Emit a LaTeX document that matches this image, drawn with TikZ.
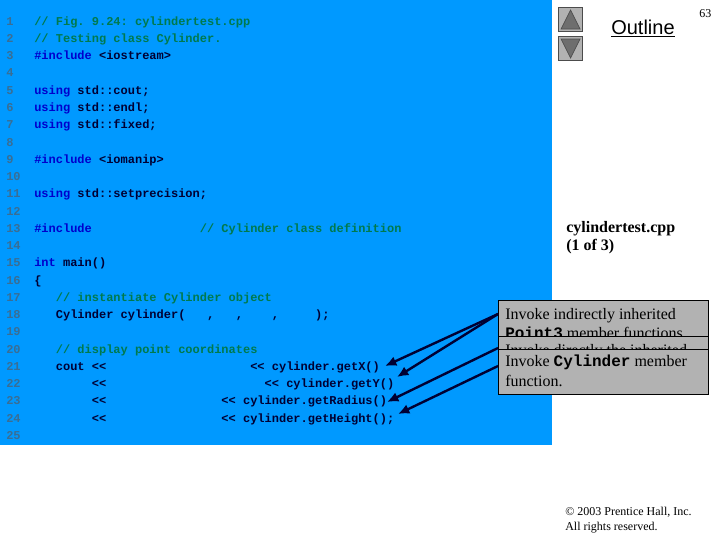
\documentclass[tikz,border=0pt]{standalone}
\usepackage{fontspec}
\setmainfont{Liberation Serif}
\setmonofont{Liberation Mono}
\setsansfont{Liberation Sans}
\usetikzlibrary{arrows.meta}
\definecolor{panelblue}{HTML}{0099FF}
\definecolor{lnum}{HTML}{3A6E94}
\definecolor{kw}{HTML}{0000CC}
\definecolor{cmt}{HTML}{007A4D}
\definecolor{idn}{HTML}{000033}
\definecolor{boxgray}{HTML}{B2B2B2}
\definecolor{trigray}{HTML}{6E6E6E}
\newcommand{\csp}[1]{\hspace*{#1\dimexpr 5.4pt\relax}}
\newcommand{\K}[1]{\textcolor{kw}{#1}}
\newcommand{\C}[1]{\textcolor{cmt}{#1}}
\tikzset{
  x=0.75pt,y=-0.75pt,
  lnumber/.style={anchor=base west,inner sep=0pt,text=lnum,font=\ttfamily\bfseries\fontsize{9}{9}\selectfont},
  code/.style={anchor=base west,inner sep=0pt,text=idn,font=\ttfamily\bfseries\fontsize{9}{9}\selectfont},
  callout/.style={draw=black,line width=0.75pt,fill=boxgray,minimum width=157.5pt,anchor=north west,inner sep=0pt},
  calltext/.style={anchor=base west,inner sep=0pt,text=black,font=\fontsize{12}{12}\selectfont},
  pointer/.style={draw=idn,line width=1.8pt,-{Latex[length=8.5pt,width=7.5pt]}},
  btn/.style={draw=black!70,line width=0.75pt,fill=boxgray,minimum width=18.5pt,minimum height=18.5pt,inner sep=0pt},
  tri/.style={draw=black!70,fill=trigray,line width=0.5pt},
  serif/.style={anchor=base west,inner sep=0pt,text=black,font=\bfseries\fontsize{12}{12}\selectfont},
  small/.style={anchor=base west,inner sep=0pt,text=black,font=\fontsize{9}{9}\selectfont},
}
\begin{document}
\begin{tikzpicture}
\useasboundingbox (0,0) rectangle (720,540);
\fill[white] (0,0) rectangle (720,540);
\fill[panelblue] (0,0) rectangle (552,445);
% line numbers
\foreach \n in {1,...,25}{
  \node[lnumber] (n\n) at (6,{25.2+(\n-1)*17.26}) {\n};
}
\newcommand{\bl}[1]{25.2+(#1-1)*17.26}
\node[code] (l1) at (34,{\bl{1}}) {\C{// Fig. 9.24: cylindertest.cpp}};
\node[code] (l2) at (34,{\bl{2}}) {\C{// Testing class Cylinder.}};
\node[code] (l3) at (34,{\bl{3}}) {\K{\#include} <iostream>};
\node[code] (l5) at (34,{\bl{5}}) {\K{using} std::cout;};
\node[code] (l6) at (34,{\bl{6}}) {\K{using} std::endl;};
\node[code] (l7) at (34,{\bl{7}}) {\K{using} std::fixed;};
\node[code] (l9) at (34,{\bl{9}}) {\K{\#include} <iomanip>};
\node[code] (l11) at (34,{\bl{11}}) {\K{using} std::setprecision;};
\node[code] (l13) at (34,{\bl{13}}) {\K{\#include}\csp{15}\C{// Cylinder class definition}};
\node[code] (l15) at (34,{\bl{15}}) {\K{int} main()};
\node[code] (l16) at (34,{\bl{16}}) {\{};
\node[code] (l17) at (34,{\bl{17}}) {\csp{3}\C{// instantiate Cylinder object}};
\node[code] (l18) at (34,{\bl{18}}) {\csp{3}Cylinder cylinder(\csp{3},\csp{3},\csp{4},\csp{5});};
\node[code] (l20) at (34,{\bl{20}}) {\csp{3}\C{// display point coordinates}};
\node[code] (l21) at (34,{\bl{21}}) {\csp{3}cout <<\csp{20}<< cylinder.getX()};
\node[code] (l22) at (34,{\bl{22}}) {\csp{8}<<\csp{22}<< cylinder.getY()};
\node[code] (l23) at (34,{\bl{23}}) {\csp{8}<<\csp{16}<< cylinder.getRadius()};
\node[code] (l24) at (34,{\bl{24}}) {\csp{8}<<\csp{16}<< cylinder.getHeight();};
% callouts
\coordinate (t1) at (385,366);
\coordinate (t2) at (397,377);
\coordinate (t3) at (387,402);
\coordinate (t4) at (398,414);
\node[callout,minimum height=50pt] (b1) at (498,300) {};
\node[calltext] (b1a) at (505,319) {Invoke indirectly inherited};
\node[calltext] (b1b) at (505,338) {{\ttfamily\bfseries Point3} member functions.};
\node[callout,minimum height=30pt] (b2) at (498,336) {};
\node[calltext] (b2a) at (505,355) {Invoke directly the inherited};
\node[callout,minimum height=33.75pt] (b3) at (498,349) {};
\node[calltext] (b3a) at (505,366) {Invoke {\ttfamily\bfseries Cylinder} member};
\node[calltext] (b3b) at (505,386) {function.};
\coordinate (s1) at ([yshift=-10.5pt]b1.north west);
\coordinate (s3) at ([yshift=-9pt]b2.north west);
\coordinate (s4) at ([yshift=-12.75pt]b3.north west);
\draw[pointer] (s1) -- (t1);
\draw[pointer] (s1) -- (t2);
\draw[pointer] (s3) -- (t3);
\draw[pointer] (s4) -- (t4);
% buttons
\node[btn] (up) at (570.5,19.5) {};
\node[btn] (down) at (570.5,48.5) {};
\draw[tri] (570.5,10) -- (580,29) -- (561,29) -- cycle;
\draw[tri] (561,39) -- (580,39) -- (570.5,58) -- cycle;
\node[anchor=base west,inner sep=0pt,font=\sffamily\fontsize{15}{15}\selectfont] (outl) at (611,34.5) {\underline{Outline}};
\node[anchor=base west,inner sep=0pt,font=\fontsize{9}{9}\selectfont] (pg) at (699,17) {63};
\node[serif] (f1) at (566,232) {cylindertest.cpp};
\node[serif] (f2) at (566,250) {(1 of 3)};
\node[small] (c1) at (565,515) {© 2003 Prentice Hall, Inc.};
\node[small] (c2) at (565,530) {All rights reserved.};
\end{tikzpicture}
\end{document}
